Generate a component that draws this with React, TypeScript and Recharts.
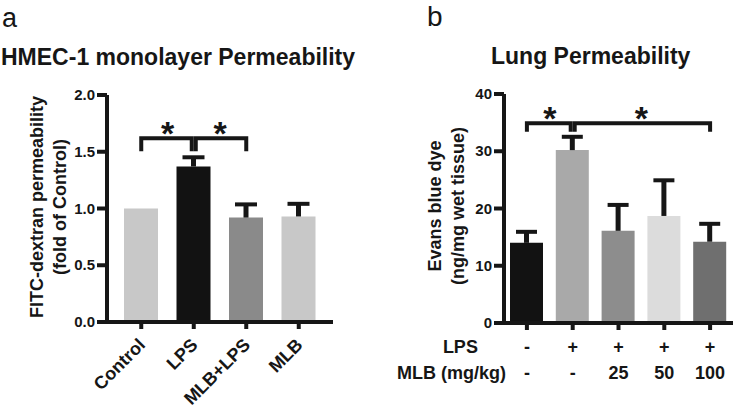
import { BarChart, Bar, XAxis, YAxis, Cell, ReferenceLine } from "recharts";

// panel a: HMEC-1 monolayer
const catsA = ["Control", "LPS", "MLB+LPS", "MLB"];
const meanA = [1.0, 1.37, 0.92, 0.93];
const errA = [0, 0.09, 0.125, 0.12];
const colorsA = ["#c8c8c8", "#121212", "#8a8a8a", "#c8c8c8"];
const ticksA = [0, 0.5, 1.0, 1.5, 2.0];

// panel b: lung
const groupsB = ["Vehicle", "LPS", "LPS+MLB25", "LPS+MLB50", "LPS+MLB100"];
const lpsRow = ["-", "+", "+", "+", "+"];
const mlbRow = ["-", "-", "25", "50", "100"];
const meanB = [14.0, 30.2, 16.1, 18.7, 14.2];
const errB = [2.1, 2.5, 4.7, 6.4, 3.3];
const colorsB = ["#121212", "#a9a9a9", "#8d8d8d", "#dcdcdc", "#6f6f6f"];
const ticksB = [0, 10, 20, 30, 40];

// significance brackets [from, to]
const sigA = [["Control", "LPS"], ["LPS", "MLB+LPS"]];
const sigB = [["Vehicle", "LPS"], ["LPS", "LPS+MLB100"]];

const dataA = catsA.map((name, i) => ({ name, value: meanA[i], err: errA[i] }));
const dataB = groupsB.map((name, i) => ({ name, value: meanB[i], err: errB[i] }));

const ink = "#161616";
const font = "'Liberation Sans', Arial, sans-serif";

const css = `
.recharts-cartesian-axis-line, .recharts-cartesian-axis-tick-line {
  stroke: ${ink}; stroke-width: 4px;
}
`;

function errShape(capW: number) {
  return (p: any) => {
    const { x, y, width, height } = p;
    if (!height || height <= 0) return <g />;
    const cx = x + width / 2;
    return (
      <g stroke={ink}>
        <line x1={cx} x2={cx} y1={y + height} y2={y} strokeWidth={5} />
        <line x1={cx - capW / 2} x2={cx + capW / 2} y1={y + 1} y2={y + 1} strokeWidth={4} />
      </g>
    );
  };
}

const starLabel = (p: any) => {
  const vb = p.viewBox || {};
  if (vb.x == null) return null;
  return (
    <text x={vb.x + (vb.width || 0) / 2} y={vb.y + 7} textAnchor="middle" fontSize={34}
      fontWeight="bold" fill={ink} fontFamily={font}>*</text>
  );
};

// bracket: horizontal segment with two drops; insets keep neighbours apart
function bracketShape(drop: number, inL: number, inR: number) {
  return (p: any) => {
    const x1 = Math.min(p.x1, p.x2) + inL;
    const x2 = Math.max(p.x1, p.x2) - inR;
    const y = p.y1;
    return (
      <path d={`M${x1},${y + drop} V${y} H${x2} V${y + drop}`} fill="none"
        stroke={ink} strokeWidth={4} />
    );
  };
}

function RotTick(props: any) {
  const { x, y, payload } = props;
  const ax = x + 5;
  const ay = y + 15;
  return (
    <text x={ax} y={ay} transform={`rotate(-45 ${ax} ${ay})`} textAnchor="end"
      fontSize={18} fontWeight="bold" fill={ink} fontFamily={font}>{payload.value}</text>
  );
}

function RowTick(props: any) {
  const { x, y, index } = props;
  const common = { fontSize: 18, fontWeight: "bold", fill: ink, fontFamily: font };
  return (
    <g>
      {index === 0 && (
        <>
          <text x={x - 49} y={y + 21} textAnchor="end" {...common}>LPS</text>
          <text x={x - 21} y={y + 47} textAnchor="end" {...common}>MLB (mg/kg)</text>
        </>
      )}
      <text x={x} y={y + 21} textAnchor="middle" {...common}>{lpsRow[index]}</text>
      <text x={x} y={y + 47} textAnchor="middle" {...common}>{mlbRow[index]}</text>
    </g>
  );
}

function yTick(digits: number) {
  return (props: any) => {
    const { x, y, payload } = props;
    return (
      <text x={x} y={y + 5} textAnchor="end" fontSize={15} fontWeight="bold" fill={ink}
        fontFamily={font}>{Number(payload.value).toFixed(digits)}</text>
    );
  };
}

function Brackets(sig: string[][], top: number, drop: number) {
  return sig.map(([a, b], i) => (
    <ReferenceLine key={`br${i}`} segment={[{ x: a, y: top }, { x: b, y: top }]}
      stroke={ink} strokeWidth={4} label={starLabel}
      shape={bracketShape(drop, i === 0 ? 0 : 2, i === 0 ? 2 : 0)} />
  ));
}

const boxText = (extra: any) => ({
  position: "absolute" as const,
  fontFamily: font,
  color: ink,
  whiteSpace: "nowrap" as const,
  ...extra,
});

const yLabel = (cx: number, cy: number) => ({
  position: "absolute" as const,
  left: cx,
  top: cy,
  transform: "translate(-50%, -50%) rotate(-90deg)",
  fontFamily: font,
  fontWeight: "bold" as const,
  fontSize: 18,
  lineHeight: "23px",
  textAlign: "center" as const,
  color: ink,
  whiteSpace: "nowrap" as const,
});

export default function App() {
  return (
    <div style={{ position: "absolute", left: 0, top: 0, width: 734, height: 410, background: "#fff", overflow: "hidden" }}>
      <style>{css}</style>
      <div style={boxText({ left: 2, top: 3, fontSize: 27, lineHeight: "30px" })}>a</div>
      <div style={boxText({ left: 427, top: 1, fontSize: 28, lineHeight: "32px" })}>b</div>
      <div style={boxText({ left: 1, top: 44, fontSize: 23, lineHeight: "26px", fontWeight: "bold" })}>
        HMEC-1 monolayer Permeability
      </div>
      <div style={boxText({ left: 491, top: 43, fontSize: 23, lineHeight: "26px", fontWeight: "bold" })}>
        Lung Permeability
      </div>
      <div style={yLabel(48.5, 207)}>FITC-dextran permeability<br />(fold of Control)</div>
      <div style={yLabel(446.5, 206)}>Evans blue dye<br />(ng/mg wet tissue)</div>

      <div style={{ position: "absolute", left: 0, top: 0 }}>
        <BarChart width={367} height={410} data={dataA} barSize={34}
          margin={{ top: 95, right: 34, left: 0, bottom: 58 }}>
          <XAxis dataKey="name" interval={0} height={30} padding={{ left: 8, right: 8 }}
            stroke={ink} tickSize={7} tick={<RotTick />} />
          <YAxis domain={[0, 2]} ticks={ticksA} width={107} interval={0}
            stroke={ink} tickSize={10} tickMargin={2} tick={yTick(1)} />
          <Bar dataKey="value" stackId="s" isAnimationActive={false}>
            {dataA.map((d, i) => <Cell key={d.name} fill={colorsA[i]} />)}
          </Bar>
          <Bar dataKey="err" stackId="s" isAnimationActive={false} shape={errShape(22)} />
          {Brackets(sigA, 1.62, 13)}
        </BarChart>
      </div>

      <div style={{ position: "absolute", left: 367, top: 0 }}>
        <BarChart width={367} height={410} data={dataB} barSize={33}
          margin={{ top: 94, right: 1, left: 0, bottom: 27 }}>
          <XAxis dataKey="name" interval={0} height={60}
            stroke={ink} tickSize={7} tick={<RowTick />} />
          <YAxis domain={[0, 40]} ticks={ticksB} width={137} interval={0}
            stroke={ink} tickSize={10} tickMargin={2} tick={yTick(0)} />
          <Bar dataKey="value" stackId="s" isAnimationActive={false}>
            {dataB.map((d, i) => <Cell key={d.name} fill={colorsB[i]} />)}
          </Bar>
          <Bar dataKey="err" stackId="s" isAnimationActive={false} shape={errShape(21)} />
          {Brackets(sigB, 34.9, 8.5)}
        </BarChart>
      </div>
    </div>
  );
}
